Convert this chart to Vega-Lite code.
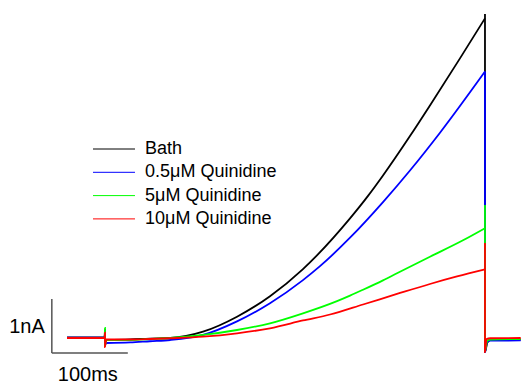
{
  "$schema": "https://vega.github.io/schema/vega-lite/v6.json",
  "width": 521,
  "height": 386,
  "autosize": {"type": "none"},
  "padding": 0,
  "config": {"view": {"stroke": null}, "font": "Liberation Sans"},
  "layer": [
    {
      "data": {"values": [
        {"name": "v", "t": -70, "t2": -70, "I": -0.278, "I2": 0.722},
        {"name": "h", "t": -70, "t2": 30, "I": -0.278, "I2": -0.278}
      ]},
      "mark": {"type": "rule", "color": "#555555", "strokeWidth": 1.5},
      "encoding": {
        "x": {"field": "t", "type": "quantitative", "scale": {"domain": [-138.2, 547.4], "nice": false, "zero": false}, "axis": null},
        "x2": {"field": "t2"},
        "y": {"field": "I", "type": "quantitative", "scale": {"domain": [-0.889, 6.259], "nice": false, "zero": false}, "axis": null},
        "y2": {"field": "I2"}
      }
    },
    {
      "data": {"values": [{"label": "1nA", "t": -70, "I": 0.222}]},
      "mark": {"type": "text", "align": "right", "baseline": "middle", "dx": -7, "dy": 1, "fontSize": 20, "font": "Liberation Sans", "color": "black"},
      "encoding": {
        "x": {"field": "t", "type": "quantitative"},
        "y": {"field": "I", "type": "quantitative"},
        "text": {"field": "label"}
      }
    },
    {
      "data": {"values": [{"label": "100ms", "t": -20, "I": -0.278}]},
      "mark": {"type": "text", "align": "center", "baseline": "middle", "dx": -2, "dy": 22, "fontSize": 20, "font": "Liberation Sans", "color": "black"},
      "encoding": {
        "x": {"field": "t", "type": "quantitative"},
        "y": {"field": "I", "type": "quantitative"},
        "text": {"field": "label"}
      }
    },
    {
      "data": {"values": [
        {"series": "Bath", "part": "pre", "i": 1, "t": -50, "I": 0.012},
        {"series": "Bath", "part": "pre", "i": 2, "t": -0.5, "I": 0.012},
        {"series": "Bath", "part": "pre", "i": 3, "t": 0, "I": 0.15},
        {"series": "Bath", "part": "pre", "i": 4, "t": 0, "I": -0.12},
        {"series": "Bath", "part": "pre", "i": 5, "t": 1.3, "I": -0.037},
        {"series": "Bath", "part": "main", "i": 6, "t": 1.3, "I": -0.037},
        {"series": "Bath", "part": "main", "i": 7, "t": 33, "I": -0.028},
        {"series": "Bath", "part": "main", "i": 8, "t": 59, "I": -0.01},
        {"series": "Bath", "part": "main", "i": 9, "t": 86, "I": 0.0},
        {"series": "Bath", "part": "main", "i": 10, "t": 129, "I": 0.117},
        {"series": "Bath", "part": "main", "i": 11, "t": 173.7, "I": 0.394},
        {"series": "Bath", "part": "main", "i": 12, "t": 217.1, "I": 0.774},
        {"series": "Bath", "part": "main", "i": 13, "t": 260.5, "I": 1.276},
        {"series": "Bath", "part": "main", "i": 14, "t": 278.9, "I": 1.53},
        {"series": "Bath", "part": "main", "i": 15, "t": 322.4, "I": 2.215},
        {"series": "Bath", "part": "main", "i": 16, "t": 346.1, "I": 2.631},
        {"series": "Bath", "part": "main", "i": 17, "t": 365.8, "I": 3.009},
        {"series": "Bath", "part": "main", "i": 18, "t": 401.3, "I": 3.739},
        {"series": "Bath", "part": "main", "i": 19, "t": 427.6, "I": 4.306},
        {"series": "Bath", "part": "main", "i": 20, "t": 467.1, "I": 5.178},
        {"series": "Bath", "part": "main", "i": 21, "t": 500, "I": 5.919},
        {"series": "Bath", "part": "post", "i": 22, "t": 500, "I": 5.919},
        {"series": "Bath", "part": "post", "i": 23, "t": 500, "I": 6.0},
        {"series": "Bath", "part": "post", "i": 24, "t": 500, "I": -0.26},
        {"series": "Bath", "part": "post", "i": 25, "t": 503, "I": -0.09},
        {"series": "Bath", "part": "post", "i": 26, "t": 507, "I": -0.04},
        {"series": "Bath", "part": "post", "i": 27, "t": 547, "I": -0.03},

        {"series": "0.5μM Quinidine", "part": "pre", "i": 1, "t": -50, "I": 0.005},
        {"series": "0.5μM Quinidine", "part": "pre", "i": 2, "t": -0.5, "I": 0.005},
        {"series": "0.5μM Quinidine", "part": "pre", "i": 3, "t": 0, "I": 0.1},
        {"series": "0.5μM Quinidine", "part": "pre", "i": 4, "t": 0, "I": -0.13},
        {"series": "0.5μM Quinidine", "part": "pre", "i": 5, "t": 1.3, "I": -0.093},
        {"series": "0.5μM Quinidine", "part": "main", "i": 6, "t": 1.3, "I": -0.093},
        {"series": "0.5μM Quinidine", "part": "main", "i": 7, "t": 33, "I": -0.083},
        {"series": "0.5μM Quinidine", "part": "main", "i": 8, "t": 59, "I": -0.06},
        {"series": "0.5μM Quinidine", "part": "main", "i": 9, "t": 86, "I": -0.037},
        {"series": "0.5μM Quinidine", "part": "main", "i": 10, "t": 128.9, "I": 0.056},
        {"series": "0.5μM Quinidine", "part": "main", "i": 11, "t": 173.7, "I": 0.307},
        {"series": "0.5μM Quinidine", "part": "main", "i": 12, "t": 217.1, "I": 0.644},
        {"series": "0.5μM Quinidine", "part": "main", "i": 13, "t": 260.5, "I": 1.072},
        {"series": "0.5μM Quinidine", "part": "main", "i": 14, "t": 282.9, "I": 1.33},
        {"series": "0.5μM Quinidine", "part": "main", "i": 15, "t": 322.4, "I": 1.857},
        {"series": "0.5μM Quinidine", "part": "main", "i": 16, "t": 365.8, "I": 2.517},
        {"series": "0.5μM Quinidine", "part": "main", "i": 17, "t": 401.3, "I": 3.102},
        {"series": "0.5μM Quinidine", "part": "main", "i": 18, "t": 440.8, "I": 3.802},
        {"series": "0.5μM Quinidine", "part": "main", "i": 19, "t": 500, "I": 4.935},
        {"series": "0.5μM Quinidine", "part": "post", "i": 20, "t": 500, "I": 4.935},
        {"series": "0.5μM Quinidine", "part": "post", "i": 21, "t": 500, "I": -0.26},
        {"series": "0.5μM Quinidine", "part": "post", "i": 22, "t": 503, "I": -0.07},
        {"series": "0.5μM Quinidine", "part": "post", "i": 23, "t": 507, "I": -0.05},
        {"series": "0.5μM Quinidine", "part": "post", "i": 24, "t": 547, "I": -0.045},

        {"series": "5μM Quinidine", "part": "pre", "i": 1, "t": -50, "I": 0.0},
        {"series": "5μM Quinidine", "part": "pre", "i": 2, "t": -0.5, "I": 0.0},
        {"series": "5μM Quinidine", "part": "pre", "i": 3, "t": 0, "I": 0.185},
        {"series": "5μM Quinidine", "part": "pre", "i": 4, "t": 0, "I": -0.15},
        {"series": "5μM Quinidine", "part": "pre", "i": 5, "t": 1.3, "I": -0.037},
        {"series": "5μM Quinidine", "part": "main", "i": 6, "t": 1.3, "I": -0.037},
        {"series": "5μM Quinidine", "part": "main", "i": 7, "t": 33, "I": -0.037},
        {"series": "5μM Quinidine", "part": "main", "i": 8, "t": 59, "I": -0.019},
        {"series": "5μM Quinidine", "part": "main", "i": 9, "t": 86, "I": 0.0},
        {"series": "5μM Quinidine", "part": "main", "i": 10, "t": 128.9, "I": 0.056},
        {"series": "5μM Quinidine", "part": "main", "i": 11, "t": 173.7, "I": 0.148},
        {"series": "5μM Quinidine", "part": "main", "i": 12, "t": 217.1, "I": 0.272},
        {"series": "5μM Quinidine", "part": "main", "i": 13, "t": 260.5, "I": 0.457},
        {"series": "5μM Quinidine", "part": "main", "i": 14, "t": 305.3, "I": 0.683},
        {"series": "5μM Quinidine", "part": "main", "i": 15, "t": 322.4, "I": 0.785},
        {"series": "5μM Quinidine", "part": "main", "i": 16, "t": 339.5, "I": 0.894},
        {"series": "5μM Quinidine", "part": "main", "i": 17, "t": 365.8, "I": 1.068},
        {"series": "5μM Quinidine", "part": "main", "i": 18, "t": 384.2, "I": 1.198},
        {"series": "5μM Quinidine", "part": "main", "i": 19, "t": 427.6, "I": 1.504},
        {"series": "5μM Quinidine", "part": "main", "i": 20, "t": 471.1, "I": 1.809},
        {"series": "5μM Quinidine", "part": "main", "i": 21, "t": 500, "I": 2.033},
        {"series": "5μM Quinidine", "part": "post", "i": 22, "t": 500, "I": 2.033},
        {"series": "5μM Quinidine", "part": "post", "i": 23, "t": 500, "I": 2.463},
        {"series": "5μM Quinidine", "part": "post", "i": 24, "t": 500, "I": -0.24},
        {"series": "5μM Quinidine", "part": "post", "i": 25, "t": 503, "I": -0.05},
        {"series": "5μM Quinidine", "part": "post", "i": 26, "t": 507, "I": -0.03},
        {"series": "5μM Quinidine", "part": "post", "i": 27, "t": 547, "I": -0.02},

        {"series": "10μM Quinidine", "part": "pre", "i": 1, "t": -50, "I": 0.0},
        {"series": "10μM Quinidine", "part": "pre", "i": 2, "t": -0.5, "I": 0.0},
        {"series": "10μM Quinidine", "part": "pre", "i": 3, "t": 0, "I": 0.1},
        {"series": "10μM Quinidine", "part": "pre", "i": 4, "t": 0, "I": -0.167},
        {"series": "10μM Quinidine", "part": "pre", "i": 5, "t": 1.3, "I": -0.028},
        {"series": "10μM Quinidine", "part": "main", "i": 6, "t": 1.3, "I": -0.028},
        {"series": "10μM Quinidine", "part": "main", "i": 7, "t": 33, "I": -0.028},
        {"series": "10μM Quinidine", "part": "main", "i": 8, "t": 59, "I": -0.019},
        {"series": "10μM Quinidine", "part": "main", "i": 9, "t": 86, "I": -0.005},
        {"series": "10μM Quinidine", "part": "main", "i": 10, "t": 128.9, "I": 0.024},
        {"series": "10μM Quinidine", "part": "main", "i": 11, "t": 173.7, "I": 0.087},
        {"series": "10μM Quinidine", "part": "main", "i": 12, "t": 217.1, "I": 0.18},
        {"series": "10μM Quinidine", "part": "main", "i": 13, "t": 260.5, "I": 0.324},
        {"series": "10μM Quinidine", "part": "main", "i": 14, "t": 296.1, "I": 0.435},
        {"series": "10μM Quinidine", "part": "main", "i": 15, "t": 339.5, "I": 0.62},
        {"series": "10μM Quinidine", "part": "main", "i": 16, "t": 384.2, "I": 0.815},
        {"series": "10μM Quinidine", "part": "main", "i": 17, "t": 427.6, "I": 1.0},
        {"series": "10μM Quinidine", "part": "main", "i": 18, "t": 463.2, "I": 1.139},
        {"series": "10μM Quinidine", "part": "main", "i": 19, "t": 500, "I": 1.269},
        {"series": "10μM Quinidine", "part": "post", "i": 20, "t": 500, "I": 1.269},
        {"series": "10μM Quinidine", "part": "post", "i": 21, "t": 500, "I": 1.759},
        {"series": "10μM Quinidine", "part": "post", "i": 22, "t": 500, "I": -0.26},
        {"series": "10μM Quinidine", "part": "post", "i": 23, "t": 502, "I": -0.02},
        {"series": "10μM Quinidine", "part": "post", "i": 24, "t": 507, "I": -0.005},
        {"series": "10μM Quinidine", "part": "post", "i": 25, "t": 547, "I": 0.0}
      ]},
      "mark": {"type": "line", "strokeWidth": 1.8, "interpolate": "monotone"},
      "encoding": {
        "x": {"field": "t", "type": "quantitative"},
        "y": {"field": "I", "type": "quantitative"},
        "order": {"field": "i", "type": "quantitative"},
        "detail": {"field": "part", "type": "nominal"},
        "color": {
          "field": "series",
          "type": "nominal",
          "sort": ["Bath", "0.5μM Quinidine", "5μM Quinidine", "10μM Quinidine"],
          "scale": {
            "domain": ["Bath", "0.5μM Quinidine", "5μM Quinidine", "10μM Quinidine"],
            "range": ["#000000", "#0000ff", "#00ff00", "#ff0000"]
          },
          "legend": {
            "title": null,
            "orient": "none",
            "legendX": 104.5,
            "legendY": 139.5,
            "symbolType": "M-2.333,0H2.333",
            "symbolSize": 324,
            "symbolStrokeWidth": 1,
            "labelFontSize": 18,
            "labelFont": "Liberation Sans",
            "labelColor": "black",
            "labelOffset": 21.5,
            "rowPadding": 4.3,
            "padding": 0
          }
        }
      }
    }
  ]
}
